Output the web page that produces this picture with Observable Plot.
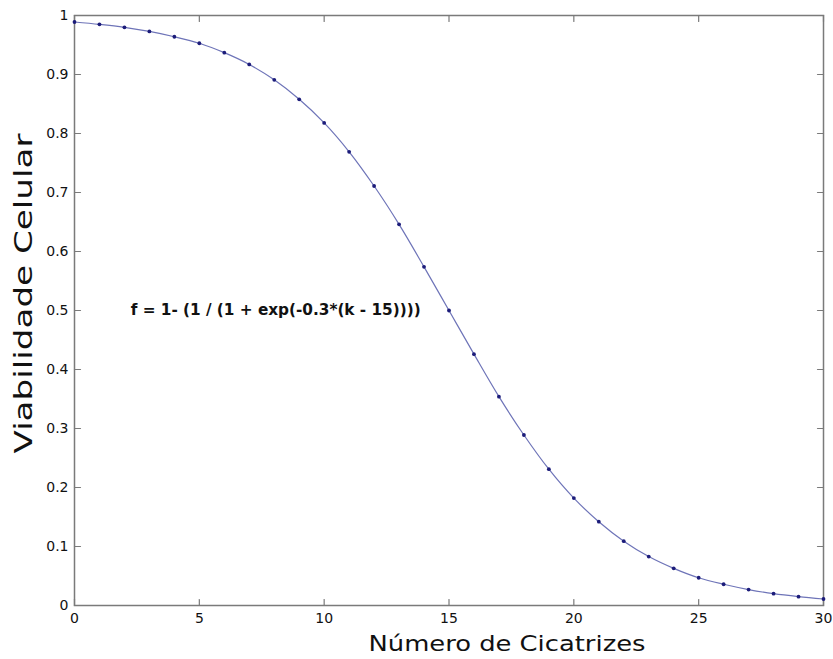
<!DOCTYPE html>
<html>
<head>
<meta charset="utf-8">
<script src="https://cdn.jsdelivr.net/npm/d3@7"></script>
<script src="https://cdn.jsdelivr.net/npm/@observablehq/plot@0.6"></script>
<style>
  html, body { margin: 0; padding: 0; background: #fff; }
  #chart svg { display: block; }
</style>
</head>
<body>
<div id="chart"></div>
<script>
// Número de cicatrizes (k)
const k = [0,1,2,3,4,5,6,7,8,9,10,11,12,13,14,15,16,17,18,19,20,21,22,23,24,25,26,27,28,29,30];
// Viabilidade celular
const viabilidade = [0.989,0.985,0.980,0.973,0.964,0.953,0.937,0.917,0.891,0.858,0.818,0.769,0.711,0.646,0.574,0.500,0.426,0.354,0.289,0.231,0.182,0.142,0.109,0.083,0.063,0.047,0.036,0.027,0.020,0.015,0.011];
const xTicks = [0,5,10,15,20,25,30];
const yTicks = [0,0.1,0.2,0.3,0.4,0.5,0.6,0.7,0.8,0.9,1];
const xTitle = "Número de Cicatrizes";
const yTitle = "Viabilidade Celular";
const formula = "f = 1- (1 / (1 + exp(-0.3*(k - 15))))";

const data = k.map((d, i) => ({k: d, v: viabilidade[i]}));
const tickShape = {draw(context, l) { context.moveTo(0, 0); context.lineTo(0, -l); }};
const axisColor = "#7a7a7a";
const font = "'DejaVu Sans', 'Liberation Sans', Arial, sans-serif";

const chart = Plot.plot({
  width: 833,
  height: 659,
  marginLeft: 74,
  marginRight: 10,
  marginTop: 15,
  marginBottom: 54,
  style: {fontFamily: font, background: "#fff"},
  x: {domain: [0, 30]},
  y: {domain: [0, 1]},
  marks: [
    Plot.frame({stroke: axisColor, strokeWidth: 1.5}),
    // inward ticks on all four sides
    Plot.vector(xTicks, {x: d => d, y: 0, length: 6, rotate: 0, anchor: "start", shape: tickShape, stroke: axisColor, strokeWidth: 1.2}),
    Plot.vector(xTicks, {x: d => d, y: 1, length: 6, rotate: 180, anchor: "start", shape: tickShape, stroke: axisColor, strokeWidth: 1.2}),
    Plot.vector(yTicks, {y: d => d, x: 0, length: 6, rotate: 90, anchor: "start", shape: tickShape, stroke: axisColor, strokeWidth: 1.2}),
    Plot.vector(yTicks, {y: d => d, x: 30, length: 6, rotate: -90, anchor: "start", shape: tickShape, stroke: axisColor, strokeWidth: 1.2}),
    Plot.axisX(xTicks, {tickSize: 0, tickPadding: 8, fontSize: 14, color: "#111", label: null, tickFormat: d => String(d)}),
    Plot.axisY(yTicks, {tickSize: 0, tickPadding: 6, fontSize: 14, color: "#111", label: null, tickFormat: d => String(d)}),
    Plot.line(data, {x: "k", y: "v", stroke: "#6e74b8", strokeWidth: 1.2, curve: "catmull-rom"}),
    Plot.dot(data, {x: "k", y: "v", r: 1.9, fill: "#1c1c7a", stroke: null}),
    Plot.text([formula], {x: 2.25, y: 0.5, text: d => d, textAnchor: "start", fontSize: 15, fontWeight: "bold", fill: "#111", className: "formula"}),
    Plot.text([xTitle], {frameAnchor: "bottom", dx: 58, dy: 45, lineAnchor: "bottom", textAnchor: "middle", text: d => d, fontSize: 22, fill: "#111", className: "xtitle"}),
    Plot.text([yTitle], {frameAnchor: "left", dx: -43, dy: -17, rotate: -90, lineAnchor: "bottom", textAnchor: "middle", text: d => d, fontSize: 24, fill: "#111", className: "ytitle"})
  ]
});
// stretch the titles to the widths they take in the reference picture
d3.select(chart).selectAll(".xtitle text").attr("textLength", 277).attr("lengthAdjust", "spacingAndGlyphs");
d3.select(chart).selectAll(".ytitle text").attr("textLength", 320).attr("lengthAdjust", "spacingAndGlyphs");
d3.select(chart).selectAll(".formula text").attr("textLength", 290).attr("lengthAdjust", "spacingAndGlyphs");
document.getElementById("chart").appendChild(chart);
</script>
</body>
</html>
